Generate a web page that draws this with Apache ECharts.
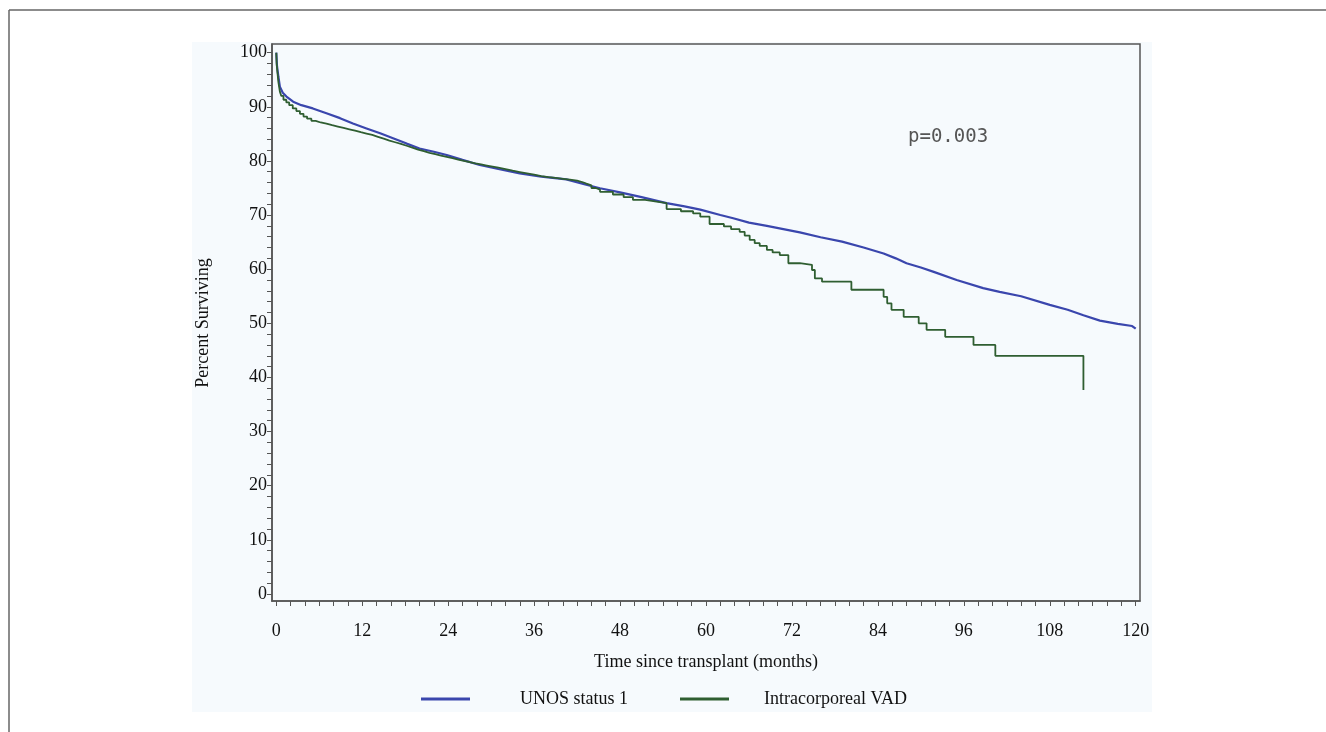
<!DOCTYPE html>
<html>
<head>
<meta charset="utf-8">
<script src="https://cdn.jsdelivr.net/npm/echarts@6/dist/echarts.min.js"></script>
<style>html,body{margin:0;padding:0;background:#fff;}#c{width:1326px;height:732px;}</style>
</head>
<body>
<div id="c"></div>
<script>
// UNOS status 1: [months, percent surviving]
const unosTimes = [0,0.1,0.3,0.5,0.9,1.42,2.35,3.5,5.1,7,8.9,10.7,12.6,14.5,16.3,18.2,20,22,23.8,26,28.4,31,34,37,40.5,43,45.2,48,51,54.5,57,59.2,62,63.8,66,68.5,70.8,73.1,76,79,82,84.8,86.5,88,90,91.8,95,98.7,101,104,108,110.5,112.7,115,117.5,119.5,120];
const unosSurv  = [100,97.5,95.5,93.7,92.6,91.9,90.95,90.3,89.7,88.8,87.9,86.9,86.0,85.1,84.2,83.2,82.3,81.7,81.1,80.2,79.25,78.5,77.7,77.1,76.6,75.7,74.95,74.2,73.3,72.2,71.6,71.0,70.0,69.4,68.6,68.0,67.4,66.8,65.9,65.1,64.0,62.9,62.0,61.1,60.3,59.5,58.0,56.5,55.8,55.0,53.4,52.5,51.5,50.5,49.9,49.5,49.0];
// Intracorporeal VAD: step (Kaplan-Meier) [months, percent surviving]
const vadTimes = [0,0.05,0.15,0.3,0.5,0.7,1.0,1.4,1.8,2.3,2.8,3.3,3.8,4.3,4.9,5.5,6.2,7.0,7.8,8.6,9.4,10.2,11.0,11.8,12.6,13.4,14.2,15.0,15.8,16.6,17.4,18.2,19.0,19.8,20.6,21.4,22.2,23.0,23.8,24.6,25.4,26.2,27.0,27.8,28.6,29.4,30.2,31.0,32.0,33.0,34.0,35.0,36.0,37.0,38.0,39.0,40.0,41.0,42.0,42.7,43.3,44.0,44.6,45.2,47,48.5,49.8,51.5,53.1,54.5,56.5,58.2,59.2,60.5,62.5,63.5,64.7,65.4,66.1,66.8,67.5,68.5,69.3,70.3,71.5,73.1,74.8,75.2,76.2,80.3,84.8,85.3,85.9,87.6,89.7,90.8,93.4,97.35,100.4,112.7];
const vadSurv  = [100,98,96.5,94.5,92.8,92.0,91.3,90.8,90.3,89.7,89.2,88.7,88.2,87.8,87.4,87.1,86.9,86.6,86.35,86.1,85.85,85.6,85.3,85.05,84.8,84.45,84.1,83.75,83.45,83.15,82.8,82.45,82.1,81.8,81.5,81.25,81.0,80.75,80.5,80.25,80.0,79.8,79.55,79.35,79.15,78.95,78.75,78.5,78.2,77.95,77.7,77.45,77.2,77.0,76.85,76.7,76.55,76.35,76.1,75.8,75.5,75.0,74.7,74.3,73.8,73.3,72.8,72.5,72.2,71.1,70.7,70.3,69.7,68.35,67.9,67.4,66.9,66.2,65.4,64.8,64.3,63.55,63.1,62.6,61.1,60.8,59.85,58.3,57.7,56.2,54.9,53.7,52.5,51.2,50.0,48.8,47.5,46.0,44.0,37.7];

const xLabelValues = [0,12,24,36,48,60,72,84,96,108,120];
const yLabelValues = [0,10,20,30,40,50,60,70,80,90,100];
const xTickValues = Array.from({length:61},(_,i)=>i*2);
const yTickValues = Array.from({length:51},(_,i)=>i*2);

const seriesNames = ['UNOS status 1','Intracorporeal VAD'];
const pText = 'p=0.003';
const xTitle = 'Time since transplant (months)';
const yTitle = 'Percent Surviving';

const serif = 'Liberation Serif';
const chart = echarts.init(document.getElementById('c'), null, {renderer:'canvas'});
chart.setOption({
  animation:false,
  backgroundColor:'#ffffff',
  graphic:[
    {type:'rect', z:-10, silent:true, shape:{x:192,y:42,width:960,height:670}, style:{fill:'#f6fafd'}},
    {type:'line', z:-5, shape:{x1:9,y1:10,x2:1326,y2:10}, style:{stroke:'#666',lineWidth:1.5}},
    {type:'line', z:-5, shape:{x1:9,y1:10,x2:9,y2:732}, style:{stroke:'#666',lineWidth:1.5}},
    {type:'text', x:203, y:323, rotation:Math.PI/2, style:{text:yTitle, font:'18px "Liberation Serif"', fill:'#111', textAlign:'center', textVerticalAlign:'middle'}},
    {type:'text', x:706, y:662, style:{text:xTitle, font:'18px "Liberation Serif"', fill:'#111', textAlign:'center', textVerticalAlign:'middle'}},
    {type:'text', x:908, y:137, style:{text:pText, font:'19px "DejaVu Sans Mono"', fill:'#555', textAlign:'left', textVerticalAlign:'middle'}}
  ],
  grid:{left:272, right:186, top:44, bottom:131, show:true, borderColor:'#555', borderWidth:1.5, backgroundColor:'transparent'},
  legend:[
    {data:[seriesNames[0]], left:416, top:685, itemWidth:49, itemHeight:3, icon:'rect',
     textStyle:{fontFamily:serif, fontSize:18, color:'#111', padding:[0,0,0,45]}},
    {data:[seriesNames[1]], left:675, top:685, itemWidth:49, itemHeight:3, icon:'rect',
     textStyle:{fontFamily:serif, fontSize:18, color:'#111', padding:[0,0,0,30]}}
  ],
  xAxis:{type:'value', min:-0.6, max:120.6,
    axisLine:{show:true, onZero:false, lineStyle:{color:'#555', width:1.5}},
    axisTick:{show:true, inside:false, length:5, customValues:xTickValues, lineStyle:{color:'#555'}},
    axisLabel:{customValues:xLabelValues, margin:21, fontFamily:serif, fontSize:18, color:'#111'},
    splitLine:{show:false}},
  yAxis:{type:'value', min:-1.3, max:101.6,
    axisLine:{show:true, onZero:false, lineStyle:{color:'#555', width:1.5}},
    axisTick:{show:true, inside:false, length:5, customValues:yTickValues, lineStyle:{color:'#555'}},
    axisLabel:{customValues:yLabelValues, margin:5, fontFamily:serif, fontSize:18, color:'#111'},
    splitLine:{show:false}},
  series:[
    {name:seriesNames[0], type:'line', showSymbol:false, symbol:'none', color:'#3a46ad',
     lineStyle:{width:2.2, color:'#3a46ad'}, z:3,
     data:unosTimes.map((t,i)=>[t,unosSurv[i]])},
    {name:seriesNames[1], type:'line', step:'end', showSymbol:false, symbol:'none', color:'#2f5e31',
     lineStyle:{width:1.8, color:'#2f5e31'}, z:4,
     data:vadTimes.map((t,i)=>[t,vadSurv[i]])}
  ]
});
</script>
</body>
</html>
